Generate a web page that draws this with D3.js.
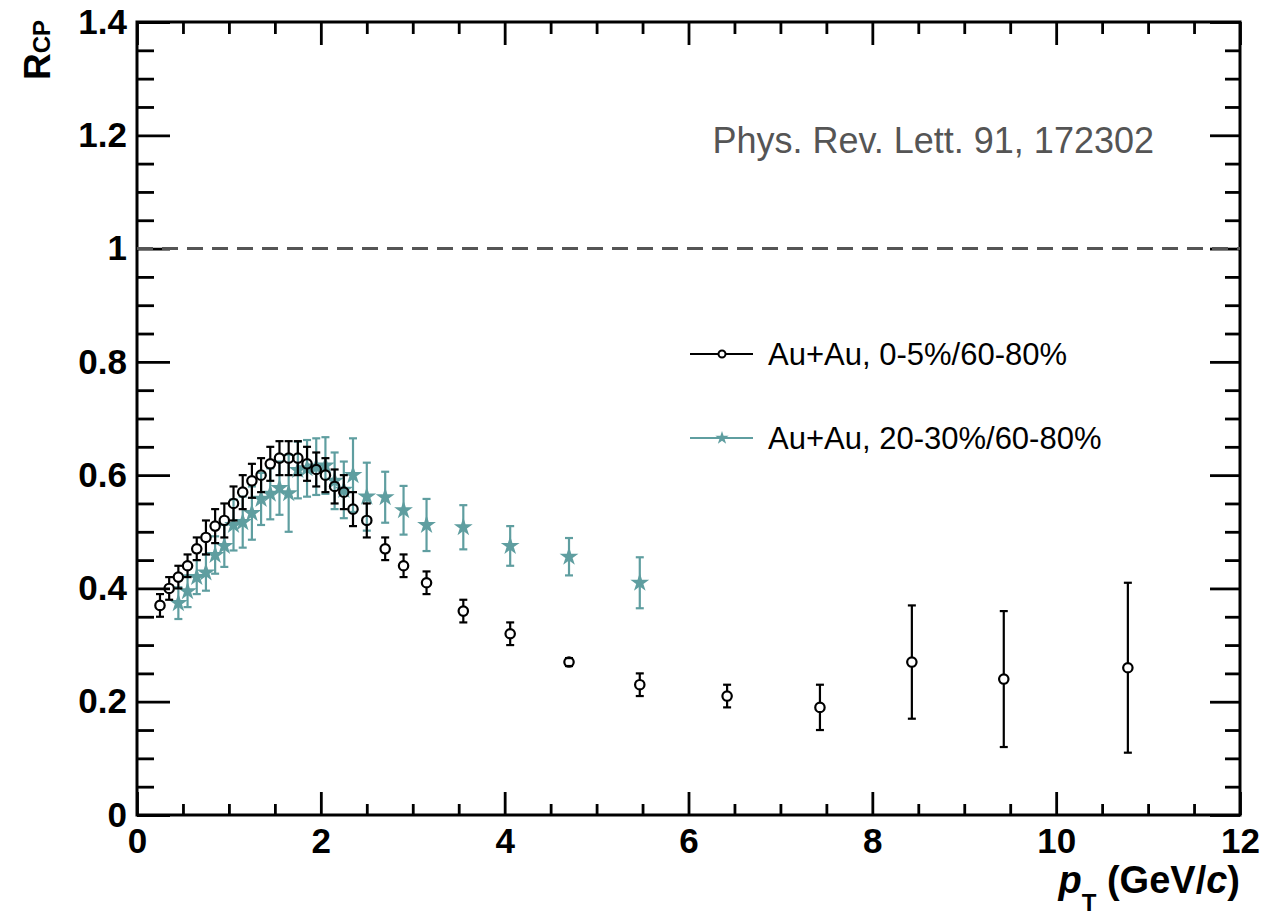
<!DOCTYPE html>
<html><head><meta charset="utf-8">
<script src="https://cdn.jsdelivr.net/npm/d3@7"></script>
<style>
body{margin:0;background:#fff}
svg{display:block}
text{font-family:"Liberation Sans",Arial,Helvetica,sans-serif}
</style>
</head><body>
<svg id="chart" width="1284" height="918"></svg>
<script>
// ---- data ----
const ptCentral = [0.25,0.35,0.45,0.55,0.65,0.75,0.85,0.95,1.05,1.15,1.25,1.35,1.45,1.55,1.65,1.75,1.85,1.95,2.05,2.15,2.25,2.35,2.5,2.7,2.9,3.15,3.55,4.06,4.70,5.47,6.42,7.43,8.43,9.43,10.78];
const rcpCentral = [0.37,0.40,0.42,0.44,0.47,0.49,0.51,0.52,0.55,0.57,0.59,0.60,0.62,0.63,0.63,0.63,0.62,0.61,0.60,0.58,0.57,0.54,0.52,0.47,0.44,0.41,0.36,0.32,0.27,0.23,0.21,0.19,0.27,0.24,0.26];
const errCentral = [0.02,0.02,0.02,0.02,0.02,0.03,0.03,0.03,0.03,0.03,0.03,0.03,0.03,0.03,0.03,0.03,0.03,0.03,0.03,0.03,0.03,0.03,0.03,0.02,0.02,0.02,0.02,0.02,0.007,0.02,0.02,0.04,0.10,0.12,0.15];

const ptMid = [0.45,0.55,0.65,0.75,0.85,0.95,1.05,1.15,1.25,1.35,1.45,1.55,1.65,1.75,1.85,1.95,2.05,2.15,2.25,2.35,2.5,2.7,2.9,3.15,3.55,4.06,4.70,5.47];
const rcpMid = [0.374,0.395,0.42,0.428,0.459,0.475,0.512,0.517,0.533,0.558,0.567,0.577,0.568,0.609,0.612,0.615,0.617,0.59,0.574,0.60,0.562,0.561,0.538,0.512,0.508,0.475,0.456,0.41];
const errMid = [0.028,0.028,0.03,0.032,0.033,0.037,0.045,0.045,0.047,0.046,0.045,0.047,0.068,0.05,0.05,0.05,0.05,0.05,0.05,0.065,0.06,0.045,0.043,0.046,0.039,0.035,0.033,0.045];

const seriesNames = ["Au+Au, 0-5%/60-80%", "Au+Au, 20-30%/60-80%"];
const xTicks = [0,2,4,6,8,10,12];
const xTickLabels = ["0","2","4","6","8","10","12"];
const yTicks = [0,0.2,0.4,0.6,0.8,1,1.2,1.4];
const yTickLabels = ["0","0.2","0.4","0.6","0.8","1","1.2","1.4"];
const refLine = 1;
const refText = "Phys. Rev. Lett. 91, 172302";

// ---- layout ----
const L = 137, R = 1240, T = 22, B = 815;
const black = "#000", teal = "#5f9ea0";
const svg = d3.select("#chart");
const x = d3.scaleLinear().domain([0,12]).range([L,R]);
const y = d3.scaleLinear().domain([0,1.4]).range([B,T]);

const xMinor = d3.range(0,12.0001,0.5).filter(v => !xTicks.includes(v));
const yMinor = d3.range(0,1.40001,0.05).map(v => +v.toFixed(2)).filter(v => !yTicks.some(t => Math.abs(t-v)<1e-6));

function styleAxis(g, sw){
  g.select(".domain").remove();
  g.selectAll(".tick line").attr("stroke","#000").attr("stroke-width",sw);
}
function styleLabels(g){
  g.selectAll("text").attr("font-size",35).attr("font-weight","bold").attr("fill","#000")
   .attr("font-family","Liberation Sans, Arial, sans-serif");
}
// bottom
svg.append("g").attr("transform",`translate(0,${B})`)
  .call(d3.axisBottom(x).tickValues(xTicks).tickFormat((d,i)=>xTickLabels[i]).tickSize(-23).tickSizeOuter(0).tickPadding(13))
  .call(g=>{styleAxis(g,2.8); styleLabels(g);});
svg.append("g").attr("transform",`translate(0,${B})`)
  .call(d3.axisBottom(x).tickValues(xMinor).tickFormat("").tickSize(-11).tickSizeOuter(0))
  .call(g=>styleAxis(g,2.8));
// top
svg.append("g").attr("transform",`translate(0,${T})`)
  .call(d3.axisTop(x).tickValues(xTicks).tickFormat("").tickSize(-23).tickSizeOuter(0))
  .call(g=>styleAxis(g,2.8));
svg.append("g").attr("transform",`translate(0,${T})`)
  .call(d3.axisTop(x).tickValues(xMinor).tickFormat("").tickSize(-12).tickSizeOuter(0))
  .call(g=>styleAxis(g,2.8));
// left
svg.append("g").attr("transform",`translate(${L},0)`)
  .call(d3.axisLeft(y).tickValues(yTicks).tickFormat((d,i)=>yTickLabels[i]).tickSize(-33).tickSizeOuter(0).tickPadding(10))
  .call(g=>{styleAxis(g,2.8); styleLabels(g);});
svg.append("g").attr("transform",`translate(${L},0)`)
  .call(d3.axisLeft(y).tickValues(yMinor).tickFormat("").tickSize(-17).tickSizeOuter(0))
  .call(g=>styleAxis(g,2.8));
// right
svg.append("g").attr("transform",`translate(${R},0)`)
  .call(d3.axisRight(y).tickValues(yTicks).tickFormat("").tickSize(-30).tickSizeOuter(0))
  .call(g=>styleAxis(g,2.8));
svg.append("g").attr("transform",`translate(${R},0)`)
  .call(d3.axisRight(y).tickValues(yMinor).tickFormat("").tickSize(-15).tickSizeOuter(0))
  .call(g=>styleAxis(g,2.8));

// frame
svg.append("rect").attr("x",L).attr("y",T).attr("width",R-L).attr("height",B-T)
  .attr("fill","none").attr("stroke","#000").attr("stroke-width",3);

// reference line
svg.append("line").attr("x1",x(0)).attr("x2",x(12)).attr("y1",y(refLine)).attr("y2",y(refLine))
  .attr("stroke","#555").attr("stroke-width",3).attr("stroke-dasharray","16,9");

// reference text
svg.append("text").attr("x",1154).attr("y",153).attr("text-anchor","end")
  .attr("font-size",36).attr("fill","#555").text(refText);

// ---- teal series ----
const midData = ptMid.map((p,i)=>({p, v:rcpMid[i], e:errMid[i]}));
const gm = svg.append("g");
gm.selectAll("line.eb").data(midData).join("line")
  .attr("x1",d=>x(d.p)).attr("x2",d=>x(d.p))
  .attr("y1",d=>y(d.v+d.e)).attr("y2",d=>y(d.v-d.e))
  .attr("stroke",teal).attr("stroke-width",2.2);
["top","bot"].forEach(k=>{
  gm.selectAll("line.cap"+k).data(midData).join("line")
    .attr("x1",d=>x(d.p)-4).attr("x2",d=>x(d.p)+4)
    .attr("y1",d=>y(k==="top"?d.v+d.e:d.v-d.e)).attr("y2",d=>y(k==="top"?d.v+d.e:d.v-d.e))
    .attr("stroke",teal).attr("stroke-width",2.2);
});
const star = d3.symbol().type(d3.symbolStar).size(110);
gm.selectAll("path.star").data(midData).join("path")
  .attr("d",star).attr("transform",d=>`translate(${x(d.p)},${y(d.v)})`)
  .attr("fill",teal);

// ---- black series ----
const cData = ptCentral.map((p,i)=>({p, v:rcpCentral[i], e:errCentral[i]}));
const r = 4.7;
const gc = svg.append("g");
gc.selectAll("line.up").data(cData.filter(d=>y(d.v)-y(d.v+d.e)>r)).join("line")
  .attr("x1",d=>x(d.p)).attr("x2",d=>x(d.p))
  .attr("y1",d=>y(d.v+d.e)).attr("y2",d=>y(d.v)-r)
  .attr("stroke",black).attr("stroke-width",2.2);
gc.selectAll("line.dn").data(cData.filter(d=>y(d.v-d.e)-y(d.v)>r)).join("line")
  .attr("x1",d=>x(d.p)).attr("x2",d=>x(d.p))
  .attr("y1",d=>y(d.v)+r).attr("y2",d=>y(d.v-d.e))
  .attr("stroke",black).attr("stroke-width",2.2);
["top","bot"].forEach(k=>{
  gc.selectAll("line.cap"+k).data(cData).join("line")
    .attr("x1",d=>x(d.p)-4).attr("x2",d=>x(d.p)+4)
    .attr("y1",d=>y(k==="top"?d.v+d.e:d.v-d.e)).attr("y2",d=>y(k==="top"?d.v+d.e:d.v-d.e))
    .attr("stroke",black).attr("stroke-width",2.2);
});
gc.selectAll("circle").data(cData).join("circle")
  .attr("cx",d=>x(d.p)).attr("cy",d=>y(d.v)).attr("r",r)
  .attr("fill","none").attr("stroke",black).attr("stroke-width",2.2);

// ---- legend ----
const leg = [{name:seriesNames[0], c:black, yy:354, ty:365, m:"circle"},
             {name:seriesNames[1], c:teal, yy:438, ty:449, m:"star"}];
leg.forEach(d=>{
  svg.append("line").attr("x1",690).attr("x2",753).attr("y1",d.yy).attr("y2",d.yy)
    .attr("stroke",d.c).attr("stroke-width",2.2);
  if(d.m==="circle"){
    svg.append("circle").attr("cx",722).attr("cy",d.yy).attr("r",3.5)
      .attr("fill","#fff").attr("stroke",d.c).attr("stroke-width",2);
  } else {
    svg.append("path").attr("d",d3.symbol().type(d3.symbolStar).size(55))
      .attr("transform",`translate(722,${d.yy})`).attr("fill",d.c);
  }
  svg.append("text").attr("x",768).attr("y",d.ty).attr("font-size",31).attr("fill","#000").text(d.name);
});

// ---- axis titles ----
const xt = svg.append("text").attr("x",1240).attr("y",893).attr("text-anchor","end")
  .attr("font-size",38).attr("font-weight","bold").attr("fill","#000");
xt.append("tspan").attr("font-style","italic").text("p");
xt.append("tspan").attr("font-size",24).attr("dy",18).text("T");
xt.append("tspan").attr("dy",-18).text(" (GeV/");
xt.append("tspan").attr("font-style","italic").text("c");
xt.append("tspan").text(")");

const yt = svg.append("text").attr("transform","translate(50,20) rotate(-90)").attr("text-anchor","end")
  .attr("font-size",37).attr("font-weight","bold").attr("fill","#000");
yt.append("tspan").text("R");
yt.append("tspan").attr("font-size",24).text("CP");
</script>
</body></html>
